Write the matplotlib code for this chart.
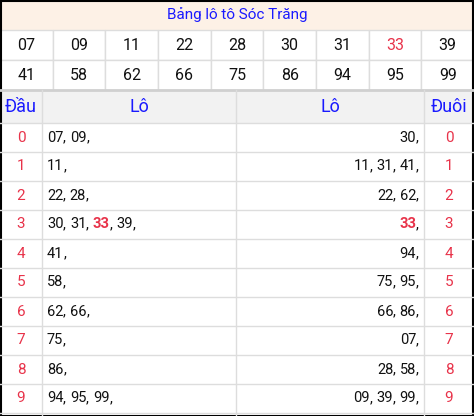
import matplotlib
matplotlib.use("Agg")
import matplotlib.pyplot as plt
from matplotlib.patches import Rectangle

title = "Bảng lô tô Sóc Trăng"
numbers = ["07","09","11","22","28","30","31","33","39",
           "41","58","62","66","75","86","94","95","99"]
highlight = ["33"]
dau = [["07","09"],["11"],["22","28"],["30","31","33","39"],["41"],["58"],
       ["62","66"],["75"],["86"],["94","95","99"]]
duoi = [["30"],["11","31","41"],["22","62"],["33"],["94"],["75","95"],
        ["66","86"],["07"],["28","58"],["09","39","99"]]
heads = ["Đầu", "Lô", "Lô", "Đuôi"]

W, H = 474, 416
fig = plt.figure(figsize=(W/100, H/100), dpi=100)
ax = fig.add_axes([0, 0, 1, 1])
ax.set_xlim(0, W); ax.set_ylim(H, 0); ax.axis("off")
FF = ["Roboto", "DejaVu Sans"]
GRID = "#dddddd"; BLUE = "#1a1aff"; RED = "#e8334a"; BLK = "#111111"
LS = 10.5

ax.add_patch(Rectangle((0, 0), W, 30, facecolor="#fdf1e6", edgecolor="none"))
ax.text(W/2, 15, title, ha="center", va="center", color=BLUE, fontsize=11, family=FF)
cw = W/9
for i, n in enumerate(numbers):
    r, c = divmod(i, 9)
    y = 30 + r*30
    ax.add_patch(Rectangle((c*cw, y), cw, 30, facecolor="white", edgecolor=GRID, lw=1))
    ax.text(c*cw + cw/2, y + 15, n, ha="center", va="center", fontsize=11.5, family=FF,
            color=RED if n in highlight else BLK)
cols = [0, 42, 236, 424, W]
ax.add_patch(Rectangle((0, 90), W, 33, facecolor="#f2f2f2", edgecolor="none"))
ax.plot([0, W], [90, 90], color="#d0d0d0", lw=2)
for k, h in enumerate(heads):
    ax.text((cols[k]+cols[k+1])/2, 107, h, ha="center", va="center", color=BLUE,
            fontsize=13, family=FF)
rh = 29
for r in range(11):
    y = 123 + r*rh
    ax.plot([0, W], [y, y], color=GRID, lw=1)
for x in cols[1:-1]:
    ax.plot([x, x], [90, H], color=GRID, lw=1)

fig.canvas.draw()
ren = fig.canvas.get_renderer()

def segments(items):
    segs = []
    for i, it in enumerate(items):
        sep = ", " if i < len(items)-1 else ","
        segs.append((it, it in highlight))
        segs.append((sep, False))
    return segs

def width_px(s, bold):
    t = ax.text(0, 0, s.replace(" ", "\u00a0"), fontsize=LS, family=FF,
                fontweight="bold" if bold else "normal")
    w = t.get_window_extent(ren).width
    t.remove()
    return w

def draw(segs, x, y, align):
    ws = [width_px(s, b) for s, b in segs]
    if align == "right":
        x -= sum(ws)
    for (s, b), w in zip(segs, ws):
        ax.text(x, y, s.replace(" ", "\u00a0"), ha="left", va="center", fontsize=LS, family=FF,
                fontweight="bold" if b else "normal", color=RED if b else BLK)
        x += w

for r in range(10):
    yc = 123 + r*rh + rh/2
    ax.text(21, yc, str(r), ha="center", va="center", color=RED, fontsize=11, family=FF)
    ax.text(449, yc, str(r), ha="center", va="center", color=RED, fontsize=11, family=FF)
    draw(segments(dau[r]), 47, yc, "left")
    draw(segments(duoi[r]), 419, yc, "right")

ax.add_patch(Rectangle((0.5, 0.5), W-1, H-1, facecolor="none", edgecolor="black", lw=1.5))
fig.savefig("out.png", dpi=100)
